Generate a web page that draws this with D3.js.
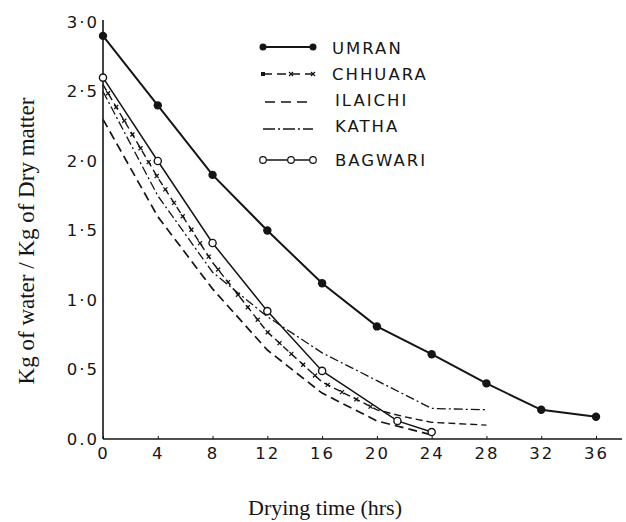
<!DOCTYPE html>
<html><head><meta charset="utf-8">
<script src="https://cdn.jsdelivr.net/npm/d3@7"></script>
<style>body{margin:0;background:#fff}svg{display:block}</style></head>
<body><svg id="c" width="626" height="522"></svg>
<script>
const umranHours=[0,4,8,12,16,20,24,28,32,36];
const umran=[2.9,2.4,1.9,1.5,1.12,0.81,0.61,0.40,0.21,0.16];
const chhuaraHours=[0,4,8,12,16,20,22,24,28];
const chhuara=[2.55,1.88,1.27,0.77,0.41,0.21,0.16,0.12,0.10];
const ilaichiHours=[0,4,8,12,16,20,24];
const ilaichi=[2.3,1.6,1.08,0.64,0.33,0.13,0.03];
const kathaHours=[0,4,8,12,16,20,24,28];
const katha=[2.5,1.75,1.2,0.88,0.62,0.42,0.22,0.21];
const bagwariHours=[0,4,8,12,16,21.5,24];
const bagwari=[2.6,2.0,1.41,0.92,0.49,0.13,0.05];
const xTicks=[0,4,8,12,16,20,24,28,32,36];
const yTicks=[0,0.5,1,1.5,2,2.5,3];
const yTickLabels=["0.0","0·5","1·0","1·5","2·0","2·5","3·0"];
const seriesNames=["UMRAN","CHHUARA","ILAICHI","KATHA","BAGWARI"];

const ink="#151515";
const svg=d3.select("#c");
const x=d3.scaleLinear().domain([0,36]).range([103,596]);
const y=d3.scaleLinear().domain([0,3]).range([439,22]);

// axes
const xAxis=d3.axisBottom(x).tickValues(xTicks).tickSizeInner(-3).tickSizeOuter(0).tickPadding(6).tickFormat(d=>d);
const gx=svg.append("g").attr("transform","translate(0,439)").call(xAxis);
gx.select(".domain").attr("d","M103,0H622").attr("stroke",ink).attr("stroke-width",1.6);
gx.selectAll(".tick line").attr("stroke",ink).attr("stroke-width",1);
gx.selectAll(".tick text").attr("fill",ink).attr("font-family","DejaVu Sans").attr("font-size",16.5).attr("letter-spacing",2).attr("dy","0.85em");

const yAxis=d3.axisLeft(y).tickValues(yTicks).tickSize(0).tickPadding(4).tickFormat((d,i)=>yTickLabels[i]);
const gy=svg.append("g").attr("transform","translate(103,0)").call(yAxis);
gy.select(".domain").attr("d","M0,20V439").attr("stroke",ink).attr("stroke-width",1.6);
gy.selectAll(".tick text").attr("fill",ink).attr("font-family","DejaVu Sans").attr("font-size",16.5).attr("letter-spacing",2);

const line=d3.line().x(d=>x(d[0])).y(d=>y(d[1]));
const zip=(a,b)=>a.map((v,i)=>[v,b[i]]);

const dUmran=zip(umranHours,umran), dCh=zip(chhuaraHours,chhuara), dIl=zip(ilaichiHours,ilaichi), dKa=zip(kathaHours,katha), dBa=zip(bagwariHours,bagwari);

const plot=svg.append("g").attr("fill","none").attr("stroke",ink);
plot.append("path").attr("d",line(dIl)).attr("stroke-width",1.7).attr("stroke-dasharray","9,5");
plot.append("path").attr("d",line(dKa)).attr("stroke-width",1.3).attr("stroke-dasharray","9,3,2,3");
const chPath=plot.append("path").attr("d",line(dCh)).attr("stroke-width",1.4).attr("stroke-dasharray","7,4");
plot.append("path").attr("d",line(dBa)).attr("stroke-width",1.5);
plot.append("path").attr("d",line(dUmran)).attr("stroke-width",2);

// CHHUARA x marks along the line
const node=chPath.node(), L=node.getTotalLength();
const crosses=[];
for(let s=10;s<L;s+=16){const p=node.getPointAtLength(s); if(x.invert(p.x)<=20.5) crosses.push(p);}
svg.append("g").selectAll("path").data(crosses).join("path")
  .attr("d",p=>`M${p.x-2},${p.y-2}L${p.x+2},${p.y+2}M${p.x-2},${p.y+2}L${p.x+2},${p.y-2}`)
  .attr("stroke",ink).attr("stroke-width",1.3);

svg.append("g").selectAll("circle").data(dUmran).join("circle")
  .attr("cx",d=>x(d[0])).attr("cy",d=>y(d[1])).attr("r",4.2).attr("fill",ink);
svg.append("g").selectAll("circle").data(dBa).join("circle")
  .attr("cx",d=>x(d[0])).attr("cy",d=>y(d[1])).attr("r",3.6).attr("fill","#fff").attr("stroke",ink).attr("stroke-width",1.4);

// legend
const lg=svg.append("g");
const rows=[47,74,102,129,160];
const lx0=263,lx1=313;
lg.append("line").attr("x1",lx0).attr("x2",lx1).attr("y1",rows[0]).attr("y2",rows[0]).attr("stroke",ink).attr("stroke-width",1.8);
lg.selectAll("c.u").data([lx0,lx1]).join("circle").attr("cx",d=>d).attr("cy",rows[0]).attr("r",3.5).attr("fill",ink);
lg.append("line").attr("x1",lx0).attr("x2",lx1).attr("y1",rows[1]).attr("y2",rows[1]).attr("stroke",ink).attr("stroke-width",1.3).attr("stroke-dasharray","9,5");
lg.append("rect").attr("x",lx0-2).attr("y",rows[1]-2).attr("width",4).attr("height",4).attr("fill",ink);
[291,lx1].forEach(cx=>lg.append("path").attr("d",`M${cx-2},${rows[1]-2}L${cx+2},${rows[1]+2}M${cx-2},${rows[1]+2}L${cx+2},${rows[1]-2}`).attr("stroke",ink).attr("stroke-width",1.2));
lg.append("line").attr("x1",lx0+2).attr("x2",lx1).attr("y1",rows[2]).attr("y2",rows[2]).attr("stroke",ink).attr("stroke-width",1.4).attr("stroke-dasharray","10,6");
lg.append("line").attr("x1",lx0).attr("x2",lx1).attr("y1",rows[3]).attr("y2",rows[3]).attr("stroke",ink).attr("stroke-width",1.3).attr("stroke-dasharray","12,3,2,3");
lg.append("line").attr("x1",lx0).attr("x2",lx1).attr("y1",rows[4]).attr("y2",rows[4]).attr("stroke",ink).attr("stroke-width",1.3);
lg.selectAll("c.b").data([lx0,291,lx1]).join("circle").attr("cx",d=>d).attr("cy",rows[4]).attr("r",3.3).attr("fill","#fff").attr("stroke",ink).attr("stroke-width",1.2);
lg.selectAll("text").data(seriesNames).join("text")
  .attr("x",(d,i)=>i<2?332:335).attr("y",(d,i)=>[48,74,100,126,160][i]).attr("dy","0.36em")
  .attr("font-family","DejaVu Sans").attr("font-size",16.5).attr("letter-spacing",2).attr("fill",ink).text(d=>d);

// axis titles
svg.append("text").attr("transform","translate(34,241) rotate(-90)").attr("text-anchor","middle")
  .attr("font-family","Liberation Serif").attr("font-size",23).attr("fill",ink).text("Kg of water / Kg of Dry matter");
svg.append("text").attr("x",325).attr("y",515).attr("text-anchor","middle")
  .attr("font-family","Liberation Serif").attr("font-size",22).attr("fill",ink).text("Drying time (hrs)");
</script></body></html>
